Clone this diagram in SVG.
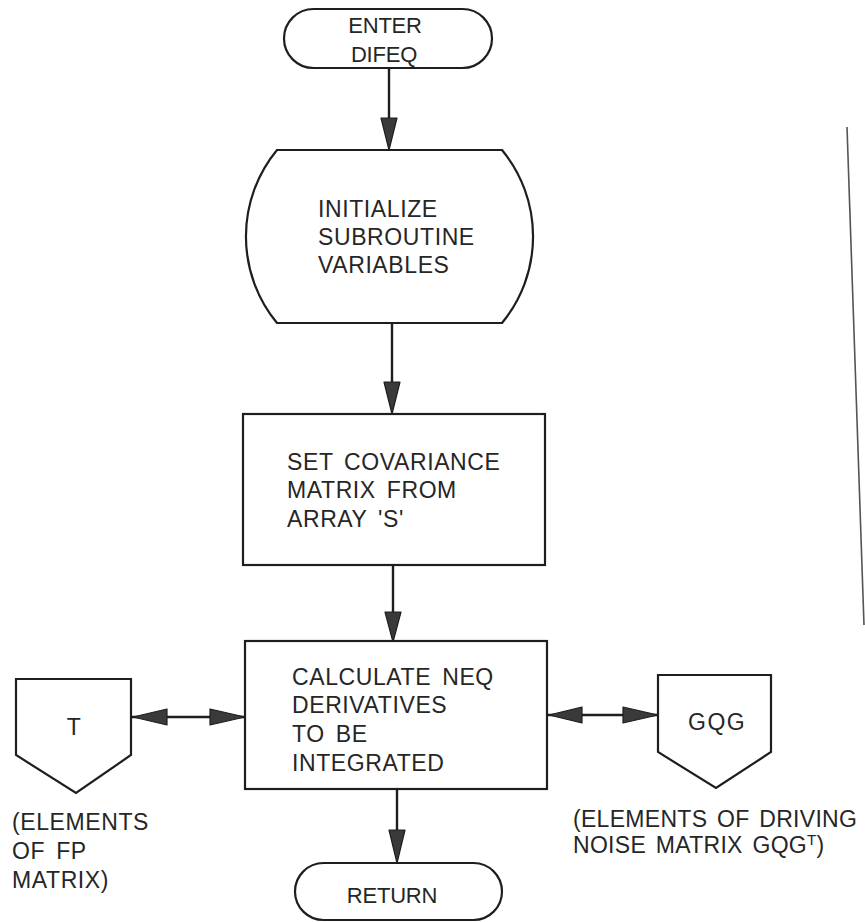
<svg xmlns="http://www.w3.org/2000/svg" width="865" height="922" viewBox="0 0 865 922">
  <style>
    .shape { fill: #ffffff; stroke: #1e1e1e; stroke-width: 2.2; }
    .flow { stroke: #1e1e1e; stroke-width: 2.4; fill: none; }
    .head { fill: #3a3a3a; stroke: #1e1e1e; stroke-width: 1.2; stroke-linejoin: round; }
    .txt { font-family: "Liberation Sans", Arial, sans-serif; font-size: 23px; fill: #262626; letter-spacing: 0.6px; word-spacing: 4px; }
    .mid { text-anchor: middle; }
    .tight { font-size: 22px; letter-spacing: -0.2px; }
    .note { letter-spacing: 0.3px; word-spacing: 3px; }
  </style>

  <rect width="865" height="922" fill="#ffffff"/>

  <!-- margin mark along the right edge -->
  <line x1="847" y1="127" x2="864" y2="625" stroke="#555555" stroke-width="1.6"/>

  <!-- connectors -->
  <g id="connectors">
    <!-- ENTER -> INITIALIZE -->
    <line class="flow" x1="389" y1="68" x2="389" y2="122"/>
    <polygon class="head" points="381,118 397,118 389,150"/>
    <!-- INITIALIZE -> SET -->
    <line class="flow" x1="392" y1="323" x2="392" y2="386"/>
    <polygon class="head" points="384,382 400,382 392,414"/>
    <!-- SET -> CALCULATE -->
    <line class="flow" x1="393" y1="565" x2="393" y2="616"/>
    <polygon class="head" points="385,612 401,612 393,642"/>
    <!-- CALCULATE -> RETURN -->
    <line class="flow" x1="397" y1="789" x2="397" y2="834"/>
    <polygon class="head" points="389,830 405,830 397,863"/>
    <!-- T <-> CALCULATE -->
    <line class="flow" x1="131" y1="717" x2="245" y2="717" stroke-width="2"/>
    <polygon class="head" points="133,717 167,709 167,725"/>
    <polygon class="head" points="245,717 210,709 210,725"/>
    <!-- CALCULATE <-> GQG -->
    <line class="flow" x1="547" y1="715" x2="658" y2="715" stroke-width="2"/>
    <polygon class="head" points="549,715 582,707 582,723"/>
    <polygon class="head" points="658,715 623,707 623,723"/>
  </g>

  <g id="enter">
    <rect class="shape" x="284" y="9" width="208" height="59" rx="29.5"/>
    <text class="txt tight mid" x="385" y="33">ENTER</text>
    <text class="txt tight mid" x="384" y="62">DIFEQ</text>
  </g>

  <g id="initialize">
    <path class="shape" d="M277,150 L502,150 A136,136 0 0 1 502,323 L277,323 A136,136 0 0 1 277,150 Z"/>
    <text class="txt" x="318" y="217">INITIALIZE</text>
    <text class="txt" x="318" y="245">SUBROUTINE</text>
    <text class="txt" x="318" y="273">VARIABLES</text>
  </g>

  <g id="set-covariance">
    <rect class="shape" x="243" y="414" width="302" height="151"/>
    <text class="txt" x="287" y="470">SET COVARIANCE</text>
    <text class="txt" x="287" y="498">MATRIX FROM</text>
    <text class="txt" x="287" y="527">ARRAY 'S'</text>
  </g>

  <g id="calculate">
    <rect class="shape" x="245" y="641" width="302" height="148"/>
    <text class="txt" x="292" y="685">CALCULATE NEQ</text>
    <text class="txt" x="292" y="713">DERIVATIVES</text>
    <text class="txt" x="292" y="742">TO BE</text>
    <text class="txt" x="292" y="771">INTEGRATED</text>
  </g>

  <g id="t-matrix">
    <polygon class="shape" points="16,679 131,679 131,755 76,793 16,755"/>
    <text class="txt mid" x="74" y="735">T</text>
  </g>

  <g id="gqg-matrix">
    <polygon class="shape" points="658,675 771,675 771,752 716,788 658,752"/>
    <text class="txt" x="688" y="730" style="letter-spacing:1.5px">GQG</text>
  </g>

  <g id="return">
    <rect class="shape" x="295" y="863" width="207" height="57" rx="28.5"/>
    <text class="txt tight mid" x="392" y="903">RETURN</text>
  </g>

  <g id="t-note">
    <text class="txt" x="12" y="830">(ELEMENTS</text>
    <text class="txt" x="12" y="859">OF FP</text>
    <text class="txt" x="12" y="888">MATRIX)</text>
  </g>

  <g id="gqg-note">
    <text class="txt note" x="573" y="827">(ELEMENTS OF DRIVING</text>
    <text class="txt note" x="573" y="853">NOISE MATRIX GQG<tspan dy="-8" font-size="15">T</tspan><tspan dy="8">)</tspan></text>
  </g>
</svg>
